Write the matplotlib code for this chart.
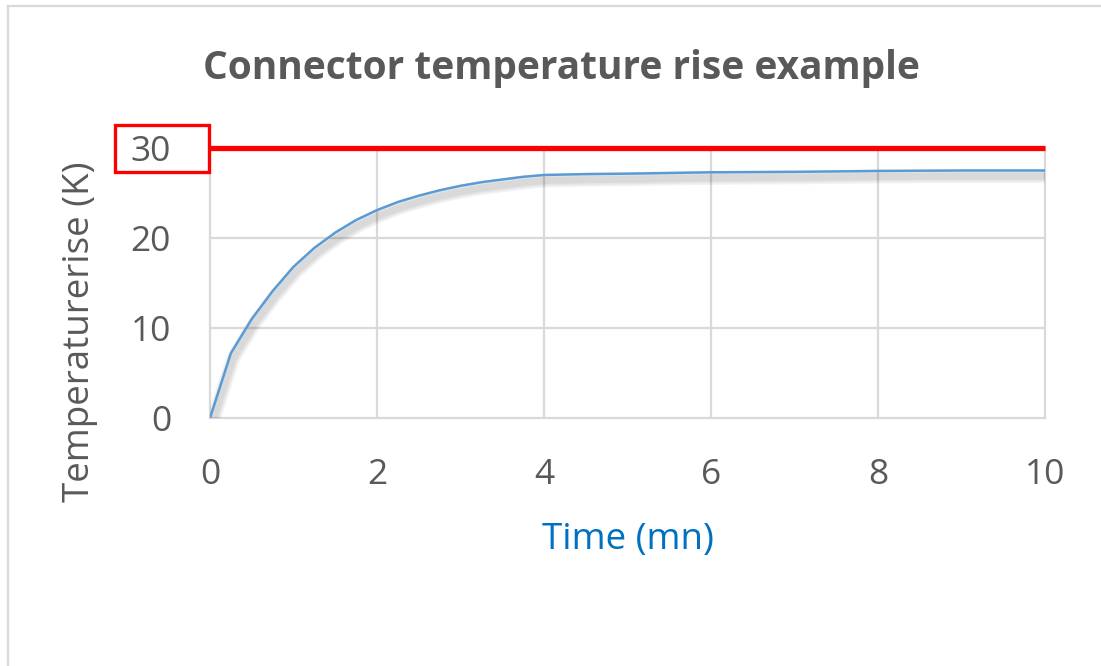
import matplotlib.pyplot as plt
import matplotlib.patheffects as pe
from matplotlib.lines import Line2D
from matplotlib.patches import Rectangle

plt.rcParams['font.family'] = ['Open Sans', 'DejaVu Sans']

# measured temperature rise of the connector
time_mn = [0, 0.25, 0.5, 0.75, 1.0, 1.25, 1.5, 1.75, 2.0, 2.25, 2.5, 2.75, 3.0,
           3.25, 3.5, 3.75, 4.0, 4.5, 5.0, 6.0, 7.0, 8.0, 9.0, 10.0]
temp_rise = [0, 7.2, 11.0, 14.1, 16.8, 18.9, 20.6, 22.0, 23.1, 24.0, 24.7, 25.3, 25.8,
             26.2, 26.5, 26.8, 27.0, 27.1, 27.15, 27.3, 27.35, 27.45, 27.5, 27.5]
limit = 30
x_ticks = [0, 2, 4, 6, 8, 10]
y_ticks = [0, 10, 20, 30]

GREY_TXT = '#595959'
GRID = '#d9d9d9'

fig = plt.figure(figsize=(11.01, 6.66), dpi=100)
W, H = 1101, 666
ax = fig.add_axes([210 / W, 1 - 418 / H, 835 / W, 270 / H])

ax.set_xlim(0, 10)
ax.set_ylim(0, 30)
ax.set_xticks(x_ticks)
ax.set_yticks(y_ticks)
for s in ax.spines.values():
    s.set_visible(False)
ax.grid(True, color=GRID, lw=1.6)
for gl in ax.get_xgridlines() + ax.get_ygridlines():
    gl.set_clip_on(False)
ax.tick_params(length=0, labelsize=25.5, labelcolor=GREY_TXT)
ax.tick_params(axis='y', pad=28)
ax.tick_params(axis='x', pad=29)
ax.set_axisbelow(True)

# response curve with a soft drop shadow
shadow = [pe.SimpleLineShadow(offset=(1.5, -4), shadow_color='#000000', alpha=0.05, linewidth=lw)
          for lw in (10, 7.5, 5)]
ax.plot(time_mn, temp_rise, color='#5b9bd5', lw=1.8, solid_capstyle='round',
        solid_joinstyle='round', path_effects=shadow + [pe.Normal()], zorder=3)

# limit line
ax.plot([0, 10], [limit, limit], color='#ff0000', lw=3.8, clip_on=False,
        solid_capstyle='butt', zorder=4)

# box around the limit tick label
fig.add_artist(Rectangle((115 / W, 1 - 172 / H), 94 / W, 47 / H, transform=fig.transFigure,
                         fill=False, edgecolor='#ff0000', lw=2.4))

fig.text(561 / W, 1 - 68 / H, 'Connector temperature rise example', ha='center', va='center',
         fontsize=28, fontweight='bold', color=GREY_TXT)
fig.text(80 / W, 1 - 332 / H, 'Temperaturerise (K)', ha='center', va='center', rotation=90,
         fontsize=26.5, color=GREY_TXT)
fig.text(628 / W, 1 - 540 / H, 'Time (mn)', ha='center', va='center',
         fontsize=26.5, color='#0070c0')

# chart frame
fig.add_artist(Line2D([8 / W, 8 / W], [0, 1 - 6 / H], transform=fig.transFigure, color=GRID, lw=1.6))
fig.add_artist(Line2D([8 / W, 1], [1 - 6 / H, 1 - 6 / H], transform=fig.transFigure, color=GRID, lw=1.6))

fig.savefig('out.png', dpi=100, facecolor='white')
